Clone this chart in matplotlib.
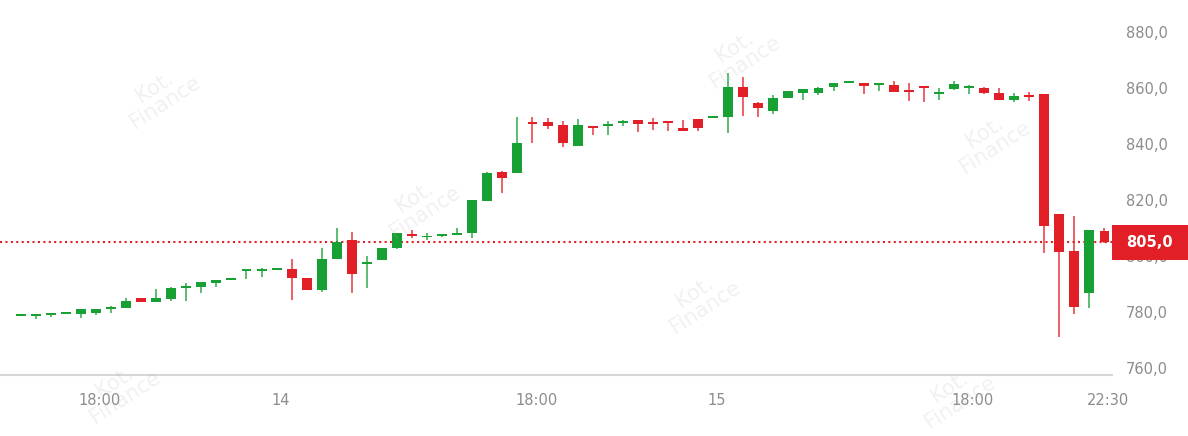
import numpy as np
import matplotlib
matplotlib.use("Agg")
import matplotlib.pyplot as plt
from matplotlib.patches import Rectangle

# 30-minute candles
opens = [778.6, 778.5, 779.0, 779.4, 779.2, 779.5, 781.2, 781.6, 784.9, 783.6,
         784.6, 788.6, 789.1, 790.3, 791.3, 794.6, 794.7, 795.1, 795.2, 792.0,
         788.0, 799.0, 805.7, 797.3, 798.7, 802.8, 807.7, 806.6, 807.0, 807.6,
         808.1, 819.7, 830.1, 829.6, 847.6, 848.0, 846.8, 839.3, 845.9, 846.4,
         847.6, 848.6, 847.3, 847.7, 845.8, 848.9, 849.4, 849.8, 860.2, 854.5,
         851.8, 856.5, 858.1, 858.2, 860.2, 861.8, 861.8, 861.0, 861.1, 858.9,
         860.1, 858.0, 859.5, 859.9, 860.1, 858.1, 855.8, 857.1, 857.9, 814.9,
         801.9, 786.9, 809.0]
highs = [778.8, 779.2, 779.2, 779.6, 781.2, 781.0, 782.0, 785.1, 785.0, 788.1,
         788.8, 790.2, 790.7, 791.5, 791.5, 794.9, 795.7, 795.3, 798.8, 792.0,
         803.0, 809.9, 808.7, 800.0, 802.8, 808.2, 809.3, 808.3, 807.4, 809.9,
         820.1, 830.0, 830.2, 849.8, 849.8, 849.2, 848.3, 848.9, 846.0, 848.3,
         848.4, 848.7, 849.2, 847.7, 848.6, 849.0, 849.6, 865.2, 863.8, 855.1,
         857.5, 859.0, 859.6, 860.2, 861.9, 862.6, 861.9, 861.8, 862.3, 861.9,
         860.1, 860.0, 862.3, 861.1, 860.2, 860.1, 858.1, 858.7, 858.0, 815.0,
         814.3, 809.4, 809.9]
lows = [778.6, 777.5, 778.1, 779.4, 778.0, 779.0, 779.6, 781.5, 783.5, 783.5,
        784.0, 784.0, 786.7, 789.0, 791.3, 791.8, 792.6, 795.1, 784.3, 787.9,
        787.3, 799.0, 786.7, 788.5, 798.5, 802.5, 806.3, 805.7, 806.8, 807.5,
        806.5, 819.5, 822.6, 829.5, 840.3, 845.3, 838.8, 839.2, 843.2, 843.2,
        846.5, 844.4, 845.0, 844.6, 844.7, 844.8, 849.4, 843.8, 850.0, 849.8,
        850.6, 856.4, 855.7, 857.5, 858.9, 861.7, 857.9, 858.9, 858.6, 855.5,
        855.1, 855.7, 859.4, 857.7, 857.7, 855.6, 854.9, 855.5, 801.0, 771.2,
        779.2, 781.5, 804.5]
closes = [778.8, 779.1, 779.2, 779.6, 781.1, 781.0, 781.9, 783.9, 783.6, 784.9,
          788.7, 789.3, 790.6, 791.4, 791.5, 794.9, 794.9, 795.3, 792.3, 787.9,
          798.8, 804.9, 793.5, 797.5, 802.7, 808.1, 807.3, 806.8, 807.2, 807.8,
          820.0, 829.8, 827.8, 840.5, 847.2, 846.4, 840.3, 846.8, 845.6, 846.6,
          848.3, 847.1, 847.0, 847.5, 844.8, 845.6, 849.6, 860.2, 856.7, 852.7,
          856.5, 858.9, 859.5, 860.1, 861.8, 862.0, 860.7, 861.2, 858.7, 858.6,
          859.9, 858.2, 861.3, 860.1, 858.2, 855.7, 857.3, 856.8, 810.8, 801.5,
          781.7, 809.3, 805.0]

last_price = 805.0
y_ticks = [760, 780, 800, 820, 840, 860, 880]
x_tick_idx = [5, 17, 34, 46, 63, 72]
x_tick_labels = ["18:00", "14", "18:00", "15", "18:00", "22:30"]

green = "#17a033"
red = "#e21f26"
gray = "#8c8c8c"

W, H = 1188, 436
fig = plt.figure(figsize=(W / 100, H / 100), dpi=100)
ax = fig.add_axes([0, 61 / H, 1112 / W, 1 - 61 / H])

o = np.array(opens)
c = np.array(closes)
hi = np.array(highs)
lo = np.array(lows)
x = np.arange(len(o))
col = [green if cc >= oo else red for oo, cc in zip(o, c)]

ax.vlines(x, lo, hi, colors=col, linewidth=1.4, alpha=0.7, zorder=2)
bottom = np.minimum(o, c)
height = np.maximum(np.abs(c - o), 0.7)
ax.bar(x, height, bottom=bottom, width=0.66, color=col, linewidth=0, zorder=3)

ax.axhline(last_price, color=red, linewidth=1.5, linestyle=(0, (1, 1.6)), zorder=1)

ax.set_xlim(-1.375, 72.5)
ax.set_ylim(757.5, 891.4)

ax.yaxis.tick_right()
ax.set_yticks(y_ticks)
ax.set_yticklabels([f"{v:.1f}".replace(".", ",") for v in y_ticks])
ax.tick_params(axis="y", length=0, pad=10, labelsize=10.5, labelcolor=gray)
ax.set_xticks(np.array(x_tick_idx) + 0.25)
ax.set_xticklabels(x_tick_labels)
ax.tick_params(axis="x", length=0, pad=13, labelsize=10.5, labelcolor=gray)

for s in ["top", "left", "right"]:
    ax.spines[s].set_visible(False)
ax.spines["bottom"].set_color("#d6d6d6")
ax.spines["bottom"].set_linewidth(1.5)

# last price tag
fig.add_artist(Rectangle((1112 / W, (H - 260) / H), 76 / W, 35 / H,
                         transform=fig.transFigure, facecolor=red,
                         edgecolor="none", zorder=5))
fig.text(1149 / W, (H - 242.5) / H, f"{last_price:.1f}".replace(".", ","),
         color="white", fontsize=10.5, fontweight="bold",
         ha="center", va="center", zorder=6)

# faint watermarks
marks = [(160, 95), (740, 55), (420, 205), (990, 140), (700, 300), (120, 390), (955, 395)]
for px, py in marks:
    fig.text(px / W, (H - py) / H, "Kot.\nFinance", color="#b0b0b0", alpha=0.18,
             fontsize=15, rotation=33, ha="center", va="center",
             linespacing=0.9, zorder=7)

fig.savefig("out.png", dpi=100)
